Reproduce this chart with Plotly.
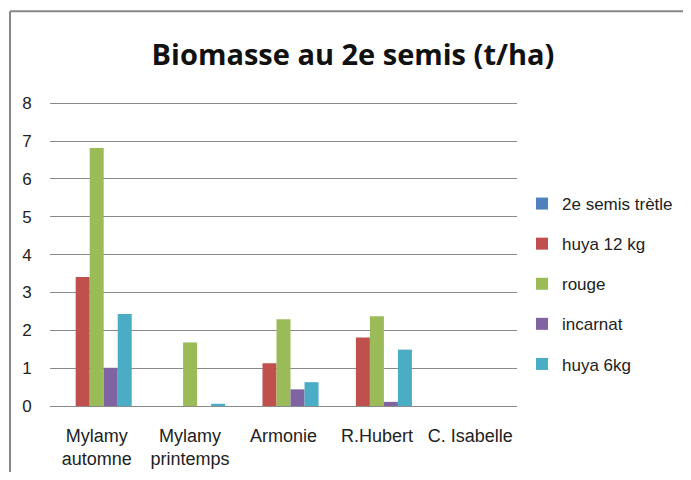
import plotly.graph_objects as go

categories = ["Mylamy<br>automne", "Mylamy<br>printemps", "Armonie", "R.Hubert", "C. Isabelle"]
series_names = ["2e semis trètle", "huya 12 kg", "rouge", "incarnat", "huya 6kg"]
trefle = [0, 0, 0, 0, 0]
huya12 = [3.41, 0, 1.13, 1.81, 0]
rouge = [6.82, 1.68, 2.29, 2.37, 0]
incarnat = [1.01, 0, 0.44, 0.11, 0]
huya6 = [2.43, 0.06, 0.63, 1.49, 0]
colors = ["#4F81BD", "#C0504D", "#9BBB59", "#8064A2", "#4BACC6"]
y_ticks = [0, 1, 2, 3, 4, 5, 6, 7, 8]
y_max = 8.06

font_family = "Liberation Sans, Arial, sans-serif"

fig = go.Figure()
for i, (name, vals) in enumerate(zip(series_names, [trefle, huya12, rouge, incarnat, huya6])):
    fig.add_trace(go.Bar(x=categories, y=vals, name=name, marker_color=colors[i],
                         marker_line_width=0, legendgroup=str(i)))

# page body has an 8px margin; work in window pixel coords and shift
O = 8
W, H = 691 - 2 * O, 480 - 2 * O
B_win = 406
T_win = B_win - 303 * y_max / 8
L, R, T, B = 50 - O, 517 - O, T_win - O, B_win - O

def px_x(p):
    return (p - O - L) / (R - L)

def px_y(p):
    return (B - (p - O)) / (B - T)

fig.update_layout(
    width=W, height=H,
    margin=dict(l=L, r=W - R, t=T, b=H - B, autoexpand=False),
    paper_bgcolor="white", plot_bgcolor="white",
    barmode="group", bargap=0.25, bargroupgap=0,
    font=dict(family=font_family, size=16, color="#222"),
    title=dict(text="<b>Biomasse au 2e semis (t/ha)</b>", x=(353 - O) / W, xanchor="center",
               y=1 - (55 - O) / H, yanchor="middle",
               font=dict(family="Open Sans, Liberation Sans, Arial", size=29, color="#111")),
    showlegend=True,
    legend=dict(xref="container", yref="container",
                x=(522 - O) / W, xanchor="left", y=1 - (186 - O) / H, yanchor="top",
                font=dict(size=17, family=font_family), tracegroupgap=15,
                itemwidth=30, bgcolor="rgba(0,0,0,0)"),
    xaxis=dict(showline=False, showgrid=False, ticks="", tickfont=dict(size=18),
               ticklabelstandoff=17, automargin=False),
    yaxis=dict(range=[0, y_max], tickvals=y_ticks, showgrid=True, gridcolor="#8a8a8a",
               gridwidth=1, zeroline=True, zerolinecolor="#8a8a8a", zerolinewidth=1,
               showline=False, ticks="outside", ticklen=14, tickcolor="white",
               tickfont=dict(size=17), automargin=False),
    shapes=[
        dict(type="line", xref="paper", yref="paper", x0=px_x(10), x1=px_x(10),
             y0=px_y(11), y1=px_y(480 + 5), line=dict(color="#888", width=2)),
        dict(type="line", xref="paper", yref="paper", x0=px_x(10), x1=px_x(691 + 5),
             y0=px_y(11), y1=px_y(11), line=dict(color="#888", width=2)),
    ],
)

fig.write_html("out.html")
